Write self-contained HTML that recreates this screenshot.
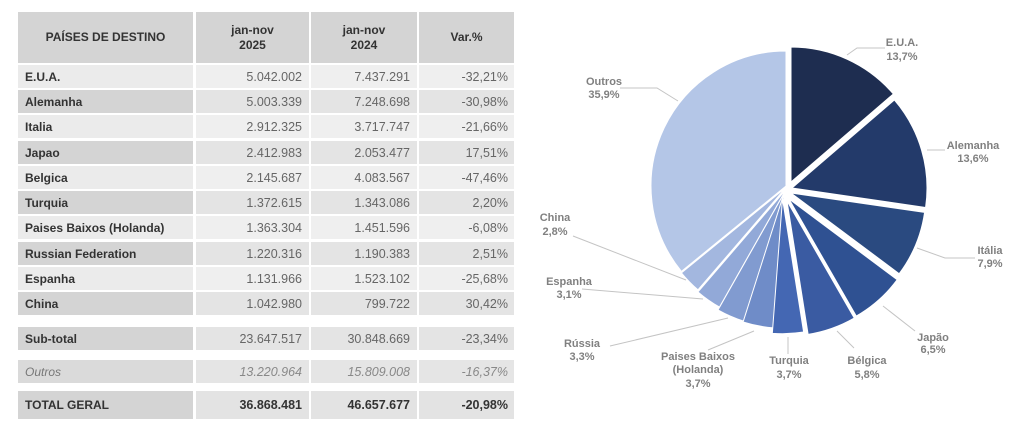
<!DOCTYPE html>
<html>
<head>
<meta charset="utf-8">
<style>
html,body{margin:0;padding:0;background:#fff;}
body{width:1024px;height:444px;position:relative;overflow:hidden;font-family:"Liberation Sans",Arial,sans-serif;}
.r{position:absolute;left:0;width:520px;height:23px;}
.r div{position:absolute;top:0;height:100%;display:flex;align-items:center;box-sizing:border-box;font-size:12.5px;color:#666;white-space:nowrap;}
.r .a{left:18px;width:175px;padding-left:7px;font-weight:bold;color:#333;font-size:12px;}
.r .b{left:196px;width:113px;justify-content:flex-end;padding-right:7px;}
.r .c{left:311px;width:106px;justify-content:flex-end;padding-right:7px;}
.r .d{left:419px;width:95px;justify-content:flex-end;padding-right:6px;}
.L .a{background:#ebebeb;} .L .b,.L .c,.L .d{background:#efefef;}
.D .a{background:#d4d4d4;} .D .b,.D .c,.D .d{background:#e4e4e4;}
.r.H div{background:#d4d4d4;justify-content:center;text-align:center;font-weight:bold;color:#333;font-size:12px;line-height:15px;padding-left:0;padding-right:0;}
.O .a{background:#dadada;font-weight:normal;font-style:italic;color:#777;}
.O .b,.O .c,.O .d{background:#e5e5e5;font-style:italic;color:#888;}
.T .a{background:#d4d4d4;} .T .b,.T .c,.T .d{background:#e3e3e3;font-weight:bold;color:#333;}
svg{position:absolute;left:0;top:0;}
svg text{font-family:"Liberation Sans",Arial,sans-serif;font-weight:bold;font-size:11px;fill:#808080;text-anchor:middle;}
</style>
</head>
<body>
<div class="r H" style="top:12px;height:51px;"><div class="a">PAÍSES DE DESTINO</div><div class="b">jan-nov<br>2025</div><div class="c">jan-nov<br>2024</div><div class="d">Var.%</div></div>

<div class="r L" style="top:65px;"><div class="a">E.U.A.</div><div class="b">5.042.002</div><div class="c">7.437.291</div><div class="d">-32,21%</div></div>
<div class="r D" style="top:90px;"><div class="a">Alemanha</div><div class="b">5.003.339</div><div class="c">7.248.698</div><div class="d">-30,98%</div></div>
<div class="r L" style="top:115px;"><div class="a">Italia</div><div class="b">2.912.325</div><div class="c">3.717.747</div><div class="d">-21,66%</div></div>
<div class="r D" style="top:141px;"><div class="a">Japao</div><div class="b">2.412.983</div><div class="c">2.053.477</div><div class="d">17,51%</div></div>
<div class="r L" style="top:166px;"><div class="a">Belgica</div><div class="b">2.145.687</div><div class="c">4.083.567</div><div class="d">-47,46%</div></div>
<div class="r D" style="top:191px;"><div class="a">Turquia</div><div class="b">1.372.615</div><div class="c">1.343.086</div><div class="d">2,20%</div></div>
<div class="r L" style="top:216px;"><div class="a">Paises Baixos (Holanda)</div><div class="b">1.363.304</div><div class="c">1.451.596</div><div class="d">-6,08%</div></div>
<div class="r D" style="top:242px;"><div class="a">Russian Federation</div><div class="b">1.220.316</div><div class="c">1.190.383</div><div class="d">2,51%</div></div>
<div class="r L" style="top:267px;"><div class="a">Espanha</div><div class="b">1.131.966</div><div class="c">1.523.102</div><div class="d">-25,68%</div></div>
<div class="r D" style="top:292px;"><div class="a">China</div><div class="b">1.042.980</div><div class="c">799.722</div><div class="d">30,42%</div></div>

<div class="r D" style="top:327px;"><div class="a">Sub-total</div><div class="b">23.647.517</div><div class="c">30.848.669</div><div class="d">-23,34%</div></div>
<div class="r O" style="top:360px;"><div class="a">Outros</div><div class="b">13.220.964</div><div class="c">15.809.008</div><div class="d">-16,37%</div></div>
<div class="r T" style="top:391px;height:28px;"><div class="a">TOTAL GERAL</div><div class="b">36.868.481</div><div class="c">46.657.677</div><div class="d">-20,98%</div></div>

<svg width="1024" height="444" viewBox="0 0 1024 444">
<g stroke="#ffffff" stroke-width="1" stroke-linejoin="round">
<path d="M786 186 L681.45 271.40 A135 135 0 0 1 786 51 Z" fill="#b4c6e7"/>
<path d="M786 187.5 L697.99 289.87 A135 135 0 0 1 681.45 272.90 Z" fill="#a3b7df"/>
<path d="M786 189.6 L719.49 307.08 A135 135 0 0 1 697.99 291.97 Z" fill="#92a9d8"/>
<path d="M784.5 192.5 L743.59 321.15 A135 135 0 0 1 717.99 309.98 Z" fill="#819bd0"/>
<path d="M784 193.3 L773.83 327.92 A135 135 0 0 1 743.09 321.95 Z" fill="#6f8cc8"/>
<path d="M782.5 198.7 L803.62 332.04 A135 135 0 0 1 772.33 333.32 Z" fill="#4467b3"/>
<path d="M787 201 L854.25 318.05 A135 135 0 0 1 808.12 334.34 Z" fill="#3a5ba2"/>
<path d="M789 199 L897.20 279.73 A135 135 0 0 1 856.25 316.05 Z" fill="#2f5192"/>
<path d="M791 193 L924.59 212.44 A135 135 0 0 1 899.20 273.73 Z" fill="#2a4a80"/>
<path d="M792 188 L894.34 99.97 A135 135 0 0 1 925.59 207.44 Z" fill="#233a6a"/>
<path d="M791 182 L791 47 A135 135 0 0 1 893.34 93.97 Z" fill="#1e2d50"/>
</g>
<g stroke="#c4c4c4" stroke-width="1" fill="none">
<polyline points="620,88 657,88 678,101"/>
<line x1="573" y1="236" x2="686" y2="280"/>
<line x1="582" y1="289" x2="703" y2="299"/>
<line x1="610" y1="346" x2="728" y2="318"/>
<line x1="708" y1="350" x2="754" y2="331"/>
<line x1="788" y1="337" x2="788" y2="354"/>
<line x1="837" y1="331" x2="854" y2="348"/>
<line x1="883" y1="306" x2="915" y2="331"/>
<polyline points="917,248 945,258 975,258"/>
<line x1="927" y1="150" x2="945" y2="150"/>
<polyline points="847,55 857,48 885,48"/>
</g>
<text x="902" y="46">E.U.A.</text><text x="902" y="60">13,7%</text>
<text x="973" y="149">Alemanha</text><text x="973" y="162">13,6%</text>
<text x="990" y="254">Itália</text><text x="990" y="267">7,9%</text>
<text x="933" y="341">Japão</text><text x="933" y="353">6,5%</text>
<text x="867" y="364">Bélgica</text><text x="867" y="378">5,8%</text>
<text x="789" y="364">Turquia</text><text x="789" y="378">3,7%</text>
<text x="698" y="360">Paises Baixos</text><text x="698" y="373">(Holanda)</text><text x="698" y="387">3,7%</text>
<text x="582" y="347">Rússia</text><text x="582" y="360">3,3%</text>
<text x="569" y="285">Espanha</text><text x="569" y="298">3,1%</text>
<text x="555" y="221">China</text><text x="555" y="235">2,8%</text>
<text x="604" y="85">Outros</text><text x="604" y="98">35,9%</text>
</svg>
</body>
</html>
